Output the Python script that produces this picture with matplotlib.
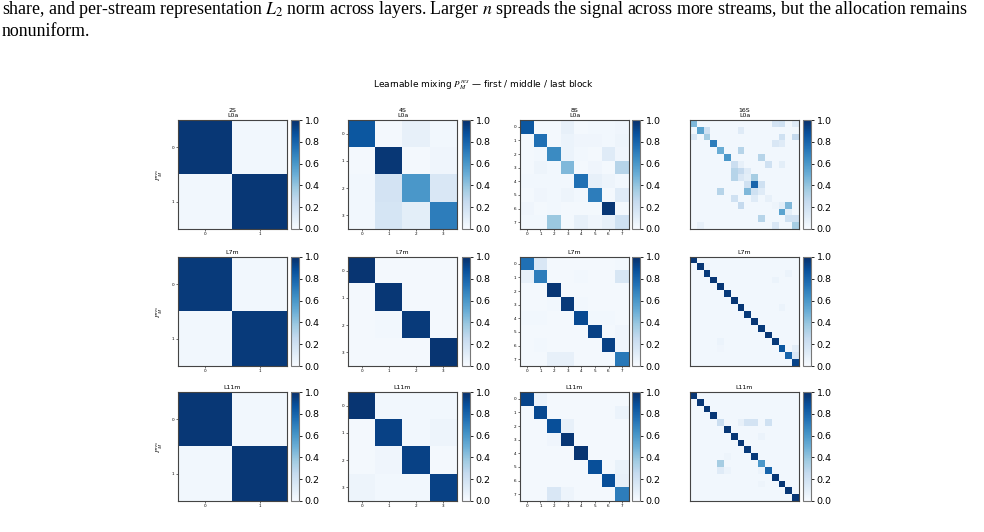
import numpy as np
import matplotlib
matplotlib.use('Agg')
import matplotlib.pyplot as plt

# ---------------------------------------------------------------------------- #
# Data                                                #
# ---------------------------------------------------------------------------- #
stream_names = ['2S', '4S', '8S', '16S']
layer_names = ['L0a', 'L7m', 'L11m']

m2_l0 = [[0.97, 0.03], [0.03, 0.97]]
m2_l7 = [[0.96, 0.03], [0.03, 0.96]]
m2_l11 = [[0.97, 0.03], [0.03, 0.97]]

m4_l0 = [[0.85, 0.02, 0.08, 0.03],
         [0.02, 0.97, 0.02, 0.04],
         [0.03, 0.18, 0.60, 0.15],
         [0.03, 0.17, 0.10, 0.70]]
m4_l7 = [[0.98, 0.02, 0.02, 0.02],
         [0.02, 0.97, 0.02, 0.02],
         [0.02, 0.03, 0.96, 0.02],
         [0.02, 0.02, 0.02, 0.98]]
m4_l11 = [[0.98, 0.03, 0.03, 0.03],
          [0.02, 0.93, 0.03, 0.05],
          [0.02, 0.04, 0.93, 0.02],
          [0.05, 0.03, 0.03, 0.93]]

m8_l0 = [[0.85, 0.02, 0.02, 0.08, 0.02, 0.03, 0.03, 0.04],
         [0.02, 0.75, 0.02, 0.06, 0.04, 0.04, 0.03, 0.05],
         [0.02, 0.03, 0.65, 0.06, 0.03, 0.02, 0.12, 0.04],
         [0.02, 0.05, 0.03, 0.45, 0.02, 0.04, 0.02, 0.30],
         [0.03, 0.03, 0.03, 0.03, 0.75, 0.08, 0.05, 0.03],
         [0.02, 0.04, 0.03, 0.05, 0.03, 0.70, 0.02, 0.12],
         [0.04, 0.02, 0.03, 0.02, 0.02, 0.02, 0.97, 0.02],
         [0.03, 0.03, 0.38, 0.02, 0.08, 0.04, 0.08, 0.20]]
m8_l7 = [[0.75, 0.15, 0.02, 0.02, 0.02, 0.02, 0.02, 0.03],
         [0.08, 0.70, 0.02, 0.02, 0.03, 0.02, 0.02, 0.16],
         [0.02, 0.02, 0.97, 0.02, 0.02, 0.02, 0.02, 0.02],
         [0.02, 0.02, 0.03, 0.96, 0.03, 0.02, 0.02, 0.02],
         [0.03, 0.03, 0.02, 0.02, 0.90, 0.03, 0.03, 0.02],
         [0.02, 0.02, 0.02, 0.02, 0.02, 0.93, 0.02, 0.04],
         [0.02, 0.03, 0.02, 0.02, 0.02, 0.02, 0.93, 0.04],
         [0.02, 0.02, 0.08, 0.08, 0.02, 0.02, 0.02, 0.72]]
m8_l11 = [[0.92, 0.06, 0.02, 0.02, 0.02, 0.02, 0.02, 0.02],
          [0.02, 0.90, 0.02, 0.02, 0.02, 0.02, 0.02, 0.06],
          [0.02, 0.02, 0.88, 0.08, 0.02, 0.02, 0.02, 0.02],
          [0.02, 0.02, 0.04, 0.97, 0.02, 0.02, 0.02, 0.02],
          [0.02, 0.02, 0.02, 0.02, 0.98, 0.02, 0.02, 0.02],
          [0.02, 0.02, 0.02, 0.02, 0.02, 0.88, 0.02, 0.07],
          [0.02, 0.02, 0.02, 0.02, 0.02, 0.02, 0.88, 0.08],
          [0.02, 0.02, 0.15, 0.05, 0.02, 0.02, 0.02, 0.70]]

# 16 streams: diagonal plus notable off-diagonal cells (row, col, value)
m16_bg = 0.03
m16_l0_diag = [0.45, 0.55, 0.35, 0.70, 0.50, 0.60, 0.22, 0.25, 0.10, 0.80, 0.12, 0.08, 0.05, 0.55, 0.20, 0.35]
m16_l0_off = [(0, 12, 0.18), (0, 13, 0.2), (0, 15, 0.12), (1, 2, 0.2), (1, 7, 0.12),
              (2, 0, 0.15), (2, 13, 0.2), (2, 15, 0.25), (3, 12, 0.15), (3, 13, 0.12),
              (4, 7, 0.3), (5, 10, 0.3), (6, 7, 0.08), (6, 11, 0.2), (6, 13, 0.1),
              (7, 6, 0.3), (7, 8, 0.12), (8, 6, 0.3), (8, 9, 0.35), (8, 7, 0.15),
              (9, 8, 0.2), (9, 10, 0.2), (10, 4, 0.3), (10, 8, 0.45), (10, 9, 0.2),
              (11, 6, 0.2), (11, 9, 0.12), (12, 7, 0.25), (12, 14, 0.45), (12, 13, 0.1),
              (13, 14, 0.1), (14, 10, 0.3), (14, 15, 0.2), (15, 12, 0.15), (15, 1, 0.08)]
m16_l7_diag = [0.97, 0.97, 0.96, 0.97, 0.97, 0.96, 0.97, 0.97, 0.96, 0.97, 0.96, 0.97, 0.96, 0.85, 0.80, 0.92]
m16_l7_off = [(2, 14, 0.06), (3, 12, 0.06), (7, 13, 0.06), (13, 15, 0.1), (14, 15, 0.15),
              (12, 4, 0.06), (13, 4, 0.04), (1, 2, 0.05)]
m16_l11_diag = [0.97, 0.97, 0.97, 0.97, 0.22, 0.97, 0.97, 0.97, 0.96, 0.96, 0.60, 0.80, 0.97, 0.97, 0.97, 0.97]
m16_l11_off = [(4, 7, 0.08), (4, 8, 0.18), (4, 9, 0.18), (4, 11, 0.2), (6, 10, 0.06),
               (10, 4, 0.35), (11, 4, 0.12), (11, 5, 0.06), (11, 10, 0.06), (9, 5, 0.05), (13, 10, 0.05)]


def build16(diag, off):
    m = np.full((16, 16), m16_bg)
    m[np.arange(16), np.arange(16)] = diag
    for r, c, v in off:
        m[r, c] = v
    return m


grid = [[m2_l0, m4_l0, m8_l0, build16(m16_l0_diag, m16_l0_off)],
        [m2_l7, m4_l7, m8_l7, build16(m16_l7_diag, m16_l7_off)],
        [m2_l11, m4_l11, m8_l11, build16(m16_l11_diag, m16_l11_off)]]

# ---------------------------------------------------------------------------- #
# Figure                                                                       #
# ---------------------------------------------------------------------------- #
plt.rcParams['mathtext.fontset'] = 'stix'
W, H = 984, 532
fig = plt.figure(figsize=(W / 100, H / 100), dpi=100)


def px_axes(x0, y0, w, h):
    return fig.add_axes([x0 / W, 1 - (y0 + h) / H, w / W, h / H])


# paper text around the figure
txt_kw = dict(family='Liberation Serif', fontsize=12.9, ha='left', va='center')
fig.text(2 / W, 1 - 10 / H, 'share, and per-stream representation $L_2$ norm across layers. '
         'Larger $n$ spreads the signal across more streams, but the allocation remains', **txt_kw)
fig.text(2 / W, 1 - 31 / H, 'nonuniform.', **txt_kw)

fig.text(484 / W, 1 - 85 / H, r'Learnable mixing $P_M^{res}$ — first / middle / last block',
         ha='center', va='center', fontsize=6.5)

col_x = [178, 348, 520, 690]
cbar_x = [291, 462, 632, 803]
row_y = [120, 257, 392]
size = 109

for i, layer in enumerate(layer_names):
    for j, name in enumerate(stream_names):
        mat = np.array(grid[i][j])
        n = mat.shape[0]
        ax = px_axes(col_x[j], row_y[i], size, size)
        im = ax.imshow(mat, cmap='Blues', vmin=0, vmax=1, aspect='auto')
        for s in ax.spines.values():
            s.set_color('#444444')
            s.set_linewidth(0.8)
        if n <= 8:
            ax.set_xticks(range(n))
            ax.set_yticks(range(n))
            ax.tick_params(labelsize=3, length=1.5, width=0.4, pad=1)
        else:
            ax.set_xticks([])
            ax.set_yticks([])
        title = f'{name}\n{layer}' if i == 0 else layer
        ax.set_title(title, fontsize=4.5, pad=2, linespacing=1.1)
        if j == 0:
            ax.set_ylabel(r'$P_M^{res}$', fontsize=5, labelpad=5)

        cax = px_axes(cbar_x[j], row_y[i], 8, size)
        cb = fig.colorbar(im, cax=cax)
        cb.set_ticks([0, 0.2, 0.4, 0.6, 0.8, 1.0])
        cb.ax.tick_params(labelsize=6.8, length=2.5, width=0.6, pad=1.5)
        cb.outline.set_linewidth(0.8)
        cb.outline.set_edgecolor('#777777')

fig.savefig('out.png', dpi=100)
